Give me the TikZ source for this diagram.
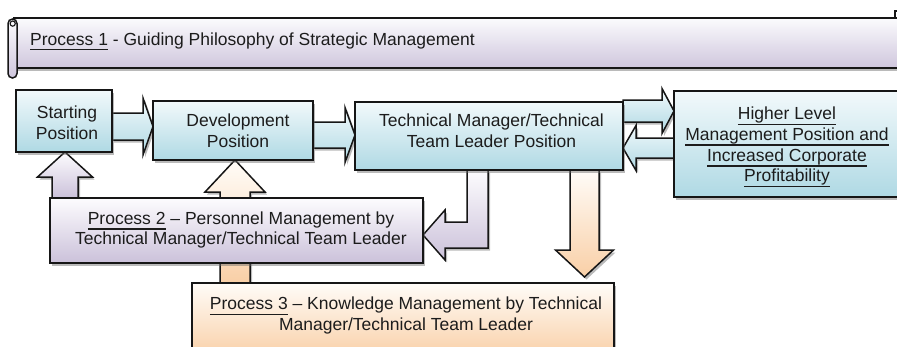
\documentclass[tikz,border=0pt]{standalone}
\usepackage{fontspec}
\setmainfont{Liberation Sans}
\usetikzlibrary{calc,shadows}
\pgfdeclarelayer{background}
\pgfsetlayers{background,main}

\definecolor{inkline}{HTML}{161616}
\definecolor{inktext}{HTML}{1C1C1C}
\definecolor{bluetop}{HTML}{F2F9FB}
\definecolor{bluebot}{HTML}{AFD9E4}
\definecolor{lilactop}{HTML}{FDFCFE}
\definecolor{lilacbot}{HTML}{CBC1DA}
\definecolor{peachtop}{HTML}{FFFCF8}
\definecolor{peachbot}{HTML}{F9CFA6}
\definecolor{bannertop}{HTML}{FBFBFD}
\definecolor{bannerbot}{HTML}{CFC6DD}

% underlined text, rule at a fixed distance below the baseline
\newcommand\ulined[1]{\setbox0\hbox{#1}\rlap{\rule[-5.4pt]{\wd0}{1.5pt}}\box0\relax}

% horizontal block arrow: style, tail, tip, shaft half-height, head half-height, head length (signed)
\newcommand\hblock[6]{%
  \path[#1] ($#2+(0,#4)$) -- ($#3+({-1*(#6)},#4)$) -- ($#3+({-1*(#6)},#5)$) -- #3
    -- ($#3+({-1*(#6)},-#5)$) -- ($#3+({-1*(#6)},-#4)$) -- ($#2+(0,-#4)$) -- cycle;}
% vertical block arrow: style, tail, tip, shaft half-width, head half-width, head length (signed)
\newcommand\vblock[6]{%
  \path[#1] ($#2+(#4,0)$) -- ($#3+(#4,{-1*(#6)})$) -- ($#3+(#5,{-1*(#6)})$) -- #3
    -- ($#3+(-#5,{-1*(#6)})$) -- ($#3+(-#4,{-1*(#6)})$) -- ($#2+(-#4,0)$) -- cycle;}

\tikzset{
  boxline/.style={draw=inkline, line width=1.5pt, line join=miter},
  dropshade/.style={drop shadow={shadow xshift=2pt, shadow yshift=-2.5pt, opacity=0.45, fill=black!60}},
  bluefill/.style={top color=bluetop, bottom color=bluebot},
  lilacfill/.style={top color=lilactop, bottom color=lilacbot},
  peachfill/.style={top color=peachtop, bottom color=peachbot},
  bannerfill/.style={top color=bannertop, bottom color=bannerbot},
  posbox/.style={boxline, dropshade, anchor=north west, inner sep=0pt, outer sep=0pt},
  lbl/.style={font=\fontsize{17.5}{20.7}\selectfont, text=inktext, align=center, inner sep=0pt},
  blockarrow/.style={boxline, dropshade},
}

\begin{document}
\begin{tikzpicture}[x=1pt,y=1pt]
\useasboundingbox (0,0) rectangle (897,-346);

% scroll banner for process 1
\path[boxline, bannerfill, dropshade] (14,-18) rectangle (912,-68);
\draw[boxline] (895,-18) -- (895,-11) -- (905,-11);
\path[boxline, bannerfill, rounded corners=4.5pt] (8,-19) rectangle (17,-78);
\draw[boxline, line width=1.1pt] (12.7,-23.6) circle (2.6);
\node[lbl, anchor=base west] (p1) at (30,-45)
  {\ulined{Process 1} - Guiding Philosophy of Strategic Management};

% position boxes
\node[posbox, bluefill, minimum width=96, minimum height=62] (start) at (16,-90) {};
\node[posbox, bluefill, minimum width=160, minimum height=59] (dev) at (153,-101) {};
\node[posbox, bluefill, minimum width=268, minimum height=68] (tech) at (355,-102) {};
\node[posbox, bluefill, minimum width=226, minimum height=106] (higher) at (674,-91) {};
\node[posbox, lilacfill, minimum width=373, minimum height=65] (p2) at (50,-198) {};
\node[posbox, peachfill, minimum width=422, minimum height=75] (p3) at (192,-283) {};

\node[lbl] (start-t) at (67,-122.6) {Starting\\Position};
\node[lbl] (dev-t) at (238,-130.5) {Development\\Position};
\node[lbl] (tech-t) at (491.5,-130.5) {Technical Manager/Technical\\Team Leader Position};
\node[lbl] (higher-t) at (787,-147.2)
  {\ulined{Higher Level}\\\ulined{Management Position and}\\\ulined{Increased Corporate}\\\ulined{Profitability}};
\node[lbl] (p2-t) at (241,-230.1)
  {\ulined{Process 2} -- Personnel Management by\\Technical Manager/Technical Team Leader};
\node[lbl] (p3-t) at (406,-315.5)
  {\ulined{Process 3} -- Knowledge Management by Technical\\Manager/Technical Team Leader};

% arrow end points
\coordinate (a1s) at (start.east |- 0,-126.5);
\coordinate (a1e) at (dev.west |- 0,-126.5);
\coordinate (a2s) at (dev.east |- 0,-135);
\coordinate (a2e) at (tech.west |- 0,-135);
\coordinate (a3s) at (tech.east |- 0,-111);
\coordinate (a3e) at (higher.west |- 0,-111);
\coordinate (a4s) at (higher.west |- 0,-148);
\coordinate (a4e) at (tech.east |- 0,-148);
\coordinate (a5s) at (65,0 |- p2.north);
\coordinate (a5e) at (65,0 |- start.south);
\coordinate (a6s) at (235,0 |- p3.north);
\coordinate (a6e) at (235,0 |- dev.south);
\coordinate (a8s) at (584.5,0 |- tech.south);
\coordinate (a8e) at (584.5,-277);
\coordinate (a7e) at (p2.east |- 0,-235);

\begin{pgfonlayer}{background}
  \hblock{blockarrow, bluefill}{(a1s)}{(a1e)}{13.5}{28.5}{10}
  \hblock{blockarrow, bluefill}{(a2s)}{(a2e)}{13}{27.5}{10}
  \hblock{blockarrow, bluefill}{(a3s)}{(a3e)}{11}{22.5}{12}
  \hblock{blockarrow, bluefill}{(a4s)}{(a4e)}{10}{22.5}{-13}
  \vblock{blockarrow, lilacfill}{(a5s)}{(a5e)}{13}{27.5}{25}
  \vblock{blockarrow, peachfill}{(a6s)}{(a6e)}{15}{30}{32}
  \vblock{blockarrow, peachfill}{(a8s)}{(a8e)}{14.5}{29}{-27}
  % bent arrow from the technical manager box down and left into process 2
  \path[blockarrow, lilacfill] (467,0 |- tech.south) -- (488,0 |- tech.south) -- (488,-248)
    -- (445,-248) -- (445,-260) -- (a7e) -- (445,-210) -- (445,-222) -- (467,-222) -- cycle;
\end{pgfonlayer}
\end{tikzpicture}
\end{document}
